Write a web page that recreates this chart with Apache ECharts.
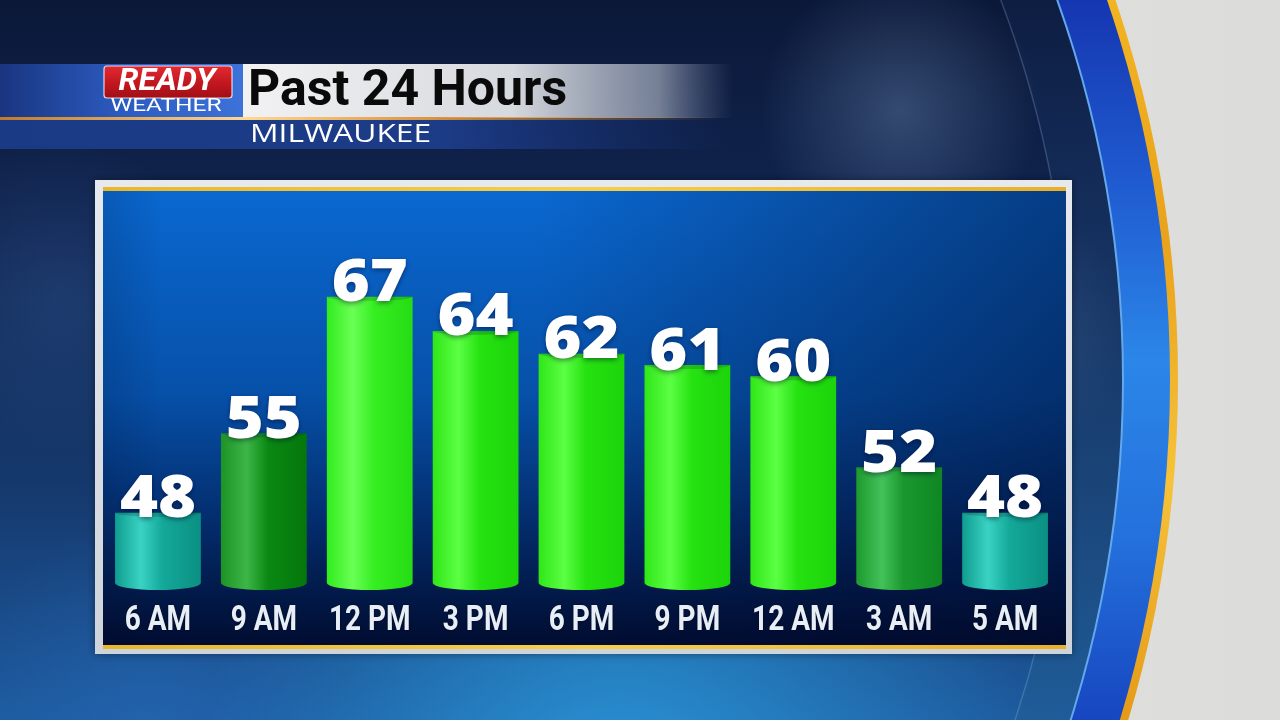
<!DOCTYPE html>
<html><head><meta charset="utf-8">
<script src="https://cdn.jsdelivr.net/npm/echarts@6/dist/echarts.min.js"></script>
<style>html,body{margin:0;padding:0;background:#0c1a3c}#c{width:1280px;height:720px}</style>
</head><body><div id="c"></div>
<script>
// ---- data ----
const categories = ['6 AM', '9 AM', '12 PM', '3 PM', '6 PM', '9 PM', '12 AM', '3 AM', '5 AM'];
const temps = [48, 55, 67, 64, 62, 61, 60, 52, 48];
const TITLE = 'Past 24 Hours';
const SUBTITLE = 'MILWAUKEE';

// ---- styles ----
const Y_MIN = 41.2, Y_MAX = 76.4;
const TEAL = ['#0f9c8f', '#3ad3c3', '#14a99a', '#0a9082'];
const DKGREEN = ['#1d9326', '#3db647', '#0a8813', '#05770b'];
const MDGREEN = ['#1c9a2d', '#44c25a', '#1a982f', '#0e8722'];
const BRIGHT = ['#2fe617', '#5cff44', '#26e211', '#1cd40a'];
const BRIGHT2 = ['#30ec1c', '#6aff55', '#36ee22', '#26dc14'];
const BAR_COLORS = [TEAL, DKGREEN, BRIGHT2, BRIGHT, BRIGHT, BRIGHT, BRIGHT, MDGREEN, TEAL];

const chart = echarts.init(document.getElementById('c'), null, {renderer: 'canvas'});

const G = (stops, x2, y2, global, x, y) => ({type: 'linear', x: x || 0, y: y || 0, x2: x2, y2: y2, global: !!global,
  colorStops: stops.map((c, i) => typeof c === 'string' ? {offset: i / (stops.length - 1), color: c} : c)});
const RAD = (color, a) => ({type: 'radial', x: 0.5, y: 0.5, r: 0.5, colorStops: [{offset: 0, color: 'rgba(' + color + ',' + a + ')'}, {offset: 1, color: 'rgba(' + color + ',0)'}]});

const RC = {cx: -8, cy: 380};
const graphics = [
  {type: 'rect', shape: {x: 0, y: 0, width: 1280, height: 720}, style: {fill: G(['#e9e9e7', '#dcdcda'], 1, 0)}, z: 0},
  {type: 'circle', shape: {cx: RC.cx, cy: RC.cy, r: 1186}, style: {fill: G(['#f2b420', '#e9a21c', '#f6c23a', '#e59a18'], 0, 720, true)}, z: 0},
  {type: 'circle', shape: {cx: RC.cx, cy: RC.cy, r: 1178}, style: {fill: G(['#1536b0', '#1f5ad0', '#2b86e8', '#2470dc', '#1746c0'], 0, 720, true)}, z: 0},
  {type: 'circle', shape: {cx: RC.cx, cy: RC.cy, r: 1132}, style: {fill: '#63a8ee'}, z: 0},
  {type: 'circle', shape: {cx: RC.cx, cy: RC.cy, r: 1130}, style: {fill: G(['#0e1d42', '#15305e', '#1a4478', '#1f5c98'], 0, 720, true)}, z: 0},
  {type: 'circle', shape: {cx: RC.cx, cy: RC.cy, r: 1078}, style: {fill: G(['#0b1838', '#112652', '#15386c', '#1d5a9e'], 0, 720, true), stroke: 'rgba(160,190,230,0.25)', lineWidth: 1.5}, z: 0},
  // clouds
  {type: 'circle', shape: {cx: 900, cy: 110, r: 140}, style: {fill: RAD('110,140,180', 0.4)}, z: 0},
  {type: 'circle', shape: {cx: 1000, cy: 330, r: 130}, style: {fill: RAD('90,120,165', 0.3)}, z: 0},
  {type: 'circle', shape: {cx: 60, cy: 300, r: 160}, style: {fill: RAD('50,90,150', 0.35)}, z: 0},
  {type: 'circle', shape: {cx: 620, cy: 780, r: 420}, style: {fill: RAD('45,165,230', 0.75)}, z: 0},
  {type: 'circle', shape: {cx: 150, cy: 720, r: 200}, style: {fill: RAD('40,110,190', 0.45)}, z: 0},
  // header banners
  {type: 'rect', shape: {x: 0, y: 64, width: 243, height: 54}, style: {fill: G(['#1a3580', '#2b5bc0', '#3d72d8'], 1, 0)}, z: 1},
  {type: 'rect', shape: {x: 243, y: 64, width: 490, height: 54}, style: {fill: G([{offset: 0, color: '#f2f2f3'}, {offset: 0.55, color: '#d6d9de'}, {offset: 0.85, color: 'rgba(160,168,185,0.7)'}, {offset: 1, color: 'rgba(120,130,160,0)'}], 1, 0)}, z: 1},
  {type: 'rect', shape: {x: 0, y: 120, width: 730, height: 29}, style: {fill: G([{offset: 0, color: '#1b3a86'}, {offset: 0.6, color: '#1d3c88'}, {offset: 1, color: 'rgba(25,55,130,0)'}], 1, 0)}, z: 1},
  {type: 'rect', shape: {x: 0, y: 117, width: 720, height: 3}, style: {fill: G([{offset: 0, color: '#c07a2a'}, {offset: 0.34, color: '#ffd890'}, {offset: 0.6, color: '#d89440'}, {offset: 1, color: 'rgba(210,140,60,0)'}], 1, 0)}, z: 2},
  {type: 'rect', shape: {x: 104, y: 66, width: 128, height: 32, r: 3}, style: {fill: G(['#e42b34', '#c41820', '#a00e16'], 0, 1), stroke: 'rgba(255,255,255,0.8)', lineWidth: 1.2}, z: 2},
  {type: 'text', x: 167, y: 82, style: {text: 'READY', fill: '#ffffff', font: 'italic bold 32px Roboto', align: 'center', verticalAlign: 'middle'}, z: 3},
  {type: 'text', x: 166, y: 106, scaleX: 1.36, style: {text: 'WEATHER', fill: '#ffffff', font: '18px Roboto', align: 'center', verticalAlign: 'middle'}, z: 3},
  {type: 'text', x: 248, y: 92, style: {text: TITLE, fill: '#0a0a0a', font: 'bold 50px Roboto', align: 'left', verticalAlign: 'middle'}, z: 3},
  {type: 'text', x: 250, y: 135, scaleX: 1.22, style: {text: SUBTITLE, fill: '#ffffff', font: '26px "Open Sans"', align: 'left', verticalAlign: 'middle'}, z: 3},
  // panel
  {type: 'rect', shape: {x: 95, y: 180, width: 977, height: 474}, style: {fill: G(['#e6e9ed', '#cfd4da'], 0, 1), shadowColor: 'rgba(0,0,0,0.4)', shadowBlur: 8}, z: 1},
  {type: 'rect', shape: {x: 103, y: 187, width: 963, height: 4}, style: {fill: G(['#e9b72a', '#f6cf4a', '#e8b02a'], 1, 0)}, z: 2},
  {type: 'rect', shape: {x: 103, y: 645, width: 963, height: 4}, style: {fill: G(['#e9b72a', '#f6cf4a', '#e8b02a'], 1, 0)}, z: 2},
  {type: 'rect', shape: {x: 103, y: 191, width: 963, height: 454}, style: {fill: G([{offset: 0, color: '#0a68d0'}, {offset: 0.45, color: '#0650a8'}, {offset: 0.75, color: '#032a68'}, {offset: 1, color: '#010c30'}], 0, 1)}, z: 2},
  {type: 'rect', shape: {x: 103, y: 191, width: 963, height: 454}, style: {fill: G([{offset: 0, color: 'rgba(0,8,40,0.15)'}, {offset: 0.06, color: 'rgba(0,8,40,0)'}, {offset: 0.45, color: 'rgba(0,8,40,0)'}, {offset: 1, color: 'rgba(0,8,40,0.45)'}], 1, 0)}, z: 2}
];

function renderBar(params, api) {
  const i = api.value(0), v = api.value(1);
  const top = api.coord([i, v]);
  const base = api.coord([i, Y_MIN]);
  const w = api.size([1, 0])[0] * 0.81;
  const cx = top[0], l = cx - w / 2, r = cx + w / 2, rx = w / 2, ry = 7;
  const yb = base[1] - ry;
  const c = BAR_COLORS[params.dataIndex];
  const fill = {type: 'linear', x: 0, y: 0, x2: 1, y2: 0, colorStops: [
    {offset: 0, color: c[0]}, {offset: 0.3, color: c[1]}, {offset: 0.55, color: c[2]}, {offset: 1, color: c[3]}]};
  return {type: 'group', children: [
    {type: 'path', shape: {pathData: 'M' + l + ' ' + top[1] + ' L' + r + ' ' + top[1] + ' L' + r + ' ' + yb + ' A' + rx + ' ' + ry + ' 0 0 1 ' + l + ' ' + yb + ' Z'}, style: {fill: fill}},
    {type: 'path', shape: {pathData: 'M' + l + ' ' + top[1] + ' A' + rx + ' 4 0 0 0 ' + r + ' ' + top[1] + ' Z'}, style: {fill: 'rgba(0,40,30,0.18)'}},
    {type: 'text', x: cx, y: top[1] + 17, scaleX: 1.12, style: {text: String(v), fill: '#ffffff', font: '800 58px "Open Sans"', align: 'center', verticalAlign: 'bottom',
      textShadowColor: 'rgba(0,0,30,0.45)', textShadowBlur: 5, textShadowOffsetY: 2}},
    {type: 'text', x: cx, y: base[1] + 31, scaleX: 0.8, style: {text: categories[i], fill: '#e8eef5', font: 'bold 35px Roboto', align: 'center', verticalAlign: 'middle',
      textShadowColor: 'rgba(0,0,0,0.4)', textShadowBlur: 3}}
  ]};
}

chart.setOption({
  animation: false,
  graphic: {elements: graphics},
  grid: {left: 105, right: 222, top: 190, bottom: 130},
  xAxis: {type: 'category', data: categories, z: 20, axisLine: {show: false}, axisTick: {show: false}, splitLine: {show: false}, axisLabel: {show: false}},
  yAxis: {type: 'value', min: Y_MIN, max: Y_MAX, show: false, splitLine: {show: false}},
  series: [{type: 'custom', z: 10, renderItem: renderBar, encode: {x: 0, y: 1},
    data: temps.map((t, i) => [i, t])}]
});
</script></body></html>
